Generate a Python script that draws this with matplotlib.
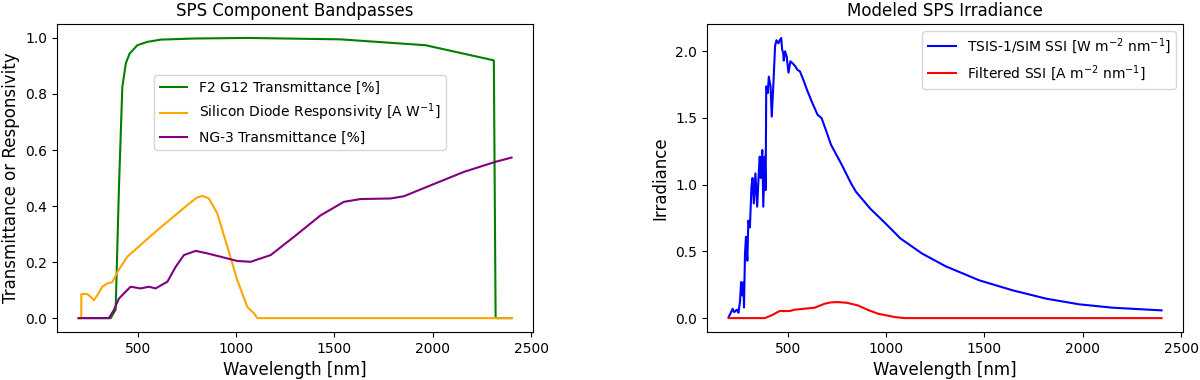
import numpy as np
import matplotlib
matplotlib.use('Agg')
import matplotlib.pyplot as plt

# --- Component bandpasses ---
f2_wl = [200, 363, 388, 405, 422, 440, 459, 498, 549, 617, 786, 1057, 1531, 1963, 2310, 2319, 2400]
f2_trans = [0.0, 0.0, 0.03, 0.47, 0.825, 0.91, 0.944, 0.974, 0.986, 0.994, 0.998, 1.0, 0.995, 0.974, 0.92, 0.0, 0.0]

si_wl = [200, 213, 214, 244, 262, 278, 295, 320, 346, 371, 397, 447, 600, 752, 800, 829, 862,
         905, 956, 1006, 1057, 1091, 1108, 2400]
si_resp = [0.0, 0.0, 0.086, 0.086, 0.075, 0.064, 0.082, 0.112, 0.124, 0.128, 0.165, 0.219, 0.314,
           0.403, 0.43, 0.436, 0.427, 0.373, 0.254, 0.136, 0.04, 0.017, 0.0, 0.0]

ng3_wl = [200, 354, 379, 405, 430, 464, 515, 557, 591, 651, 693, 735, 795, 854, 922, 1006, 1074,
          1176, 1294, 1430, 1548, 1633, 1785, 1853, 1989, 2158, 2319, 2400]
ng3_trans = [0.0, 0.0, 0.029, 0.07, 0.088, 0.112, 0.106, 0.112, 0.106, 0.13, 0.183, 0.225, 0.24,
             0.231, 0.219, 0.204, 0.201, 0.225, 0.29, 0.367, 0.415, 0.425, 0.427, 0.435, 0.474,
             0.522, 0.558, 0.573]

# --- Irradiance ---
ssi_wl = [200, 211, 220, 228, 242, 250, 258, 263, 270, 275, 278, 283, 288, 295, 300, 308, 316,
          321, 328, 336, 345, 353, 358, 363, 371, 376, 383, 388, 391, 399, 404, 413, 419, 428,
          436, 443, 453, 460, 467, 472, 477, 480, 487, 495, 504, 514, 525, 539, 550, 562, 576,
          601, 626, 652, 672, 694, 720, 771, 822, 847, 920, 997, 1073, 1183, 1302, 1474, 1644,
          1813, 1983, 2152, 2400]
ssi = [0.008, 0.04, 0.07, 0.045, 0.063, 0.04, 0.13, 0.27, 0.17, 0.27, 0.08, 0.48, 0.61, 0.43,
       0.73, 0.68, 0.985, 1.05, 0.86, 1.085, 0.835, 1.085, 1.21, 1.05, 1.26, 0.835, 1.21, 0.96,
       1.737, 1.687, 1.81, 1.737, 1.51, 1.775, 2.04, 2.083, 2.06, 2.083, 2.1, 2.01, 1.99, 1.93,
       2.0, 1.96, 1.84, 1.925, 1.91, 1.887, 1.86, 1.85, 1.80, 1.70, 1.61, 1.524, 1.50, 1.41,
       1.30, 1.16, 1.01, 0.947, 0.82, 0.71, 0.597, 0.484, 0.389, 0.283, 0.208, 0.146, 0.103,
       0.078, 0.058]

filt_wl = [200, 383, 417, 459, 510, 535, 637, 688, 720, 756, 800, 857, 910, 959, 1044, 1095, 2400]
filt_ssi = [0.0, 0.0, 0.02, 0.053, 0.053, 0.063, 0.078, 0.108, 0.118, 0.12, 0.115, 0.095, 0.06,
            0.033, 0.008, 0.0, 0.0]

fig, (ax1, ax2) = plt.subplots(1, 2, figsize=(12, 3.8), dpi=100)
plt.subplots_adjust(left=0.0475, right=0.986, bottom=0.126, top=0.937, wspace=0.365)

# --- Left: bandpasses ---
ax1.plot(f2_wl, f2_trans, color='green', label='F2 G12 Transmittance [%]')
ax1.plot(si_wl, si_resp, color='orange', label='Silicon Diode Responsivity [A W$^{-1}$]')
ax1.plot(ng3_wl, ng3_trans, color='purple', label='NG-3 Transmittance [%]')
ax1.set_title('SPS Component Bandpasses')
ax1.set_xlabel('Wavelength [nm]', fontsize=12)
ax1.set_ylabel('Transmittance or Responsivity', fontsize=12)
ax1.legend(loc='center', bbox_to_anchor=(0.51, 0.712))

# --- Right: irradiance ---
ax2.plot(ssi_wl, ssi, color='blue', label='TSIS-1/SIM SSI [W m$^{-2}$ nm$^{-1}$]')
ax2.plot(filt_wl, filt_ssi, color='red', label='Filtered SSI [A m$^{-2}$ nm$^{-1}$]')
ax2.set_title('Modeled SPS Irradiance')
ax2.set_xlabel('Wavelength [nm]', fontsize=12)
ax2.set_ylabel('Irradiance', fontsize=12)
ax2.legend(loc='upper right')

plt.savefig('out.png')
